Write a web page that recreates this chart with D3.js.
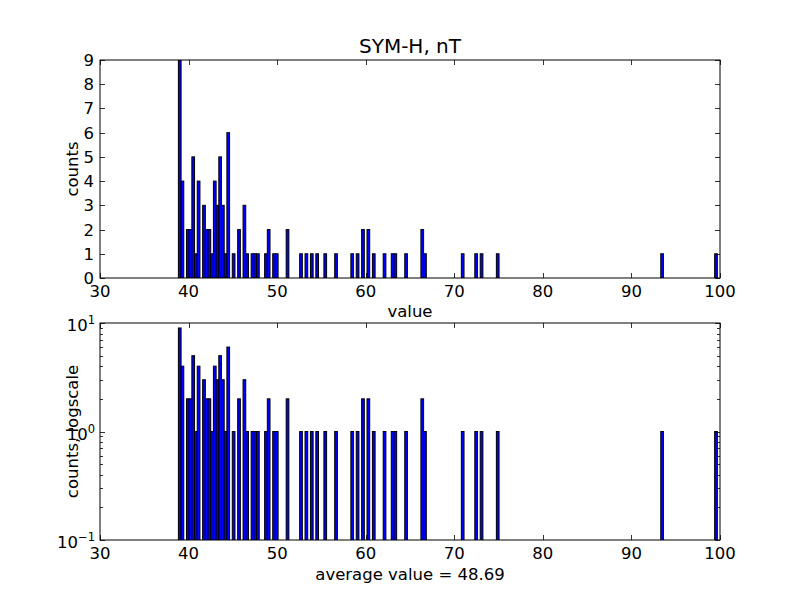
<!DOCTYPE html>
<html>
<head>
<meta charset="utf-8">
<script src="https://cdn.jsdelivr.net/npm/d3@7"></script>
<style>
  html, body { margin: 0; padding: 0; background: #fff; }
  text { font-family: "DejaVu Sans", sans-serif; fill: #000; }
</style>
</head>
<body>
<svg id="chart" width="800" height="600"></svg>
<script>
// ---- data ----
const title = "SYM-H, nT";
const binStart = 38.85;     // left edge of first histogram bin
const binWidth = 0.30425;   // width of each bin
const binIndex = [0, 1, 3, 4, 5, 6, 7, 9, 10, 11, 12, 13, 14, 15, 16, 17, 18, 20, 22, 24, 25, 27, 28, 29,
                  32, 33, 35, 36, 40, 45, 47, 49, 51, 54, 58, 64, 66, 68, 70, 72, 76, 79, 80, 84, 90, 91,
                  105, 110, 112, 118, 179, 199];
const counts   = [9, 4, 2, 2, 5, 1, 4, 3, 2, 2, 1, 4, 3, 5, 3, 1, 6, 1, 2, 3, 1, 1, 1, 1,
                  1, 2, 1, 1, 2, 1, 1, 1, 1, 1, 1, 1, 1, 2, 2, 1, 1, 1, 1, 1, 2, 1,
                  1, 1, 1, 1, 1, 1];
const xTicks = [30, 40, 50, 60, 70, 80, 90, 100];
const yTicksLinear = [0, 1, 2, 3, 4, 5, 6, 7, 8, 9];
const yTicksLog = [0.1, 1, 10];
const yTickLogExp = ["\u22121", "0", "1"];
const xLabelTop = "value";
const yLabelTop = "counts";
const yLabelBottom = "counts, logscale";
const averageLabel = "average value = 48.69";

const bars = binIndex.map((b, i) => ({ x0: binStart + b * binWidth, x1: binStart + (b + 1) * binWidth, c: counts[i] }));

// ---- layout ----
const svg = d3.select("#chart");
const L = 100, R = 720;
const top1 = 60, bot1 = 278;
const top2 = 323, bot2 = 540;

const x = d3.scaleLinear().domain([30, 100]).range([L, R]);
const y1 = d3.scaleLinear().domain([0, 9]).range([bot1, top1]);
const y2 = d3.scaleLog().domain([0.1, 10]).range([bot2, top2]);

function drawFrame(g, t, b) {
  g.append("rect").attr("x", L).attr("y", t).attr("width", R - L).attr("height", b - t)
    .attr("fill", "none").attr("stroke", "#000").attr("stroke-width", 1);
}

function xTickMarks(g, t, b) {
  xTicks.forEach(v => {
    const px = Math.round(x(v)) + 0.5;
    g.append("line").attr("x1", px).attr("x2", px).attr("y1", b).attr("y2", b - 5).attr("stroke", "#000").attr("stroke-width", 0.8);
    g.append("line").attr("x1", px).attr("x2", px).attr("y1", t).attr("y2", t + 5).attr("stroke", "#000").attr("stroke-width", 0.8);
    g.append("text").attr("x", x(v)).attr("y", b + 19).attr("text-anchor", "middle")
      .style("font-size", "16.5px").text(v);
  });
}

// ---- top panel ----
const gTop = svg.append("g");
const clip1 = svg.append("clipPath").attr("id", "clip1");
clip1.append("rect").attr("x", L).attr("y", top1).attr("width", R - L).attr("height", bot1 - top1);
gTop.append("g").attr("clip-path", "url(#clip1)")
  .selectAll("rect").data(bars).enter().append("rect")
  .attr("x", d => x(d.x0)).attr("width", d => x(d.x1) - x(d.x0))
  .attr("y", d => y1(d.c)).attr("height", d => y1(0) - y1(d.c))
  .attr("fill", "#0000ff").attr("stroke", "#000").attr("stroke-width", 1);
drawFrame(gTop, top1, bot1);
xTickMarks(gTop, top1, bot1);
yTicksLinear.forEach(v => {
  const py = Math.round(y1(v)) + 0.5;
  gTop.append("line").attr("x1", L).attr("x2", L + 5).attr("y1", py).attr("y2", py).attr("stroke", "#000").attr("stroke-width", 0.8);
  gTop.append("line").attr("x1", R).attr("x2", R - 5).attr("y1", py).attr("y2", py).attr("stroke", "#000").attr("stroke-width", 0.8);
  gTop.append("text").attr("x", L - 6).attr("y", y1(v) + 6).attr("text-anchor", "end")
    .style("font-size", "16.5px").text(v);
});
svg.append("text").attr("x", (L + R) / 2).attr("y", 53).attr("text-anchor", "middle")
  .style("font-size", "20px").text(title);
svg.append("text").attr("x", (L + R) / 2).attr("y", 317).attr("text-anchor", "middle")
  .style("font-size", "16.5px").text(xLabelTop);
svg.append("text").attr("transform", `translate(78,${(top1 + bot1) / 2}) rotate(-90)`).attr("text-anchor", "middle")
  .style("font-size", "16.5px").text(yLabelTop);

// ---- bottom panel ----
const gBot = svg.append("g");
const clip2 = svg.append("clipPath").attr("id", "clip2");
clip2.append("rect").attr("x", L).attr("y", top2).attr("width", R - L).attr("height", bot2 - top2);
gBot.append("g").attr("clip-path", "url(#clip2)")
  .selectAll("rect").data(bars).enter().append("rect")
  .attr("x", d => x(d.x0)).attr("width", d => x(d.x1) - x(d.x0))
  .attr("y", d => y2(d.c)).attr("height", d => bot2 + 5 - y2(d.c))
  .attr("fill", "#0000ff").attr("stroke", "#000").attr("stroke-width", 1);
drawFrame(gBot, top2, bot2);
xTickMarks(gBot, top2, bot2);
// minor log ticks
const minor = [];
[0.1, 1].forEach(base => { for (let k = 2; k <= 9; k++) minor.push(base * k); });
minor.forEach(v => {
  const py = Math.round(y2(v)) + 0.5;
  gBot.append("line").attr("x1", L).attr("x2", L + 3).attr("y1", py).attr("y2", py).attr("stroke", "#000").attr("stroke-width", 0.8);
  gBot.append("line").attr("x1", R).attr("x2", R - 3).attr("y1", py).attr("y2", py).attr("stroke", "#000").attr("stroke-width", 0.8);
});
yTicksLog.forEach((v, i) => {
  const py = Math.round(y2(v)) + 0.5;
  gBot.append("line").attr("x1", L).attr("x2", L + 5).attr("y1", py).attr("y2", py).attr("stroke", "#000").attr("stroke-width", 0.8);
  gBot.append("line").attr("x1", R).attr("x2", R - 5).attr("y1", py).attr("y2", py).attr("stroke", "#000").attr("stroke-width", 0.8);
  const t = gBot.append("text").attr("x", L - 5).attr("y", y2(v) + 8).attr("text-anchor", "end").style("font-size", "16.5px");
  t.append("tspan").text("10");
  t.append("tspan").attr("dy", -7).style("font-size", "11.5px").text(yTickLogExp[i]);
});
svg.append("text").attr("x", (L + R) / 2).attr("y", 580).attr("text-anchor", "middle")
  .style("font-size", "16.5px").text(averageLabel);
svg.append("text").attr("transform", `translate(78,${(top2 + bot2) / 2}) rotate(-90)`).attr("text-anchor", "middle")
  .style("font-size", "16.5px").text(yLabelBottom);
</script>
</body>
</html>
